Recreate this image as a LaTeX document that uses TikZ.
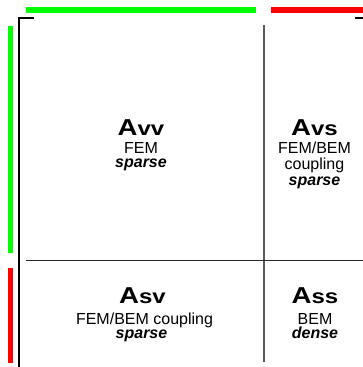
\documentclass[tikz,border=0pt]{standalone}
\usepackage{fontspec}
\setmainfont{Liberation Sans}
\newfontfamily\ttlfont[FakeStretch=1.2]{Liberation Sans}
\definecolor{barg}{RGB}{0,255,0}
\definecolor{barr}{RGB}{255,0,0}
\definecolor{divgray}{RGB}{90,90,90}
\newcommand{\Mname}[1]{{\ttlfont\bfseries\fontsize{23}{23}\selectfont A}{\ttlfont\bfseries\fontsize{20}{20}\selectfont #1}}
\begin{document}
\begin{tikzpicture}[x=1pt,y=-1pt,
  gbar/.style={line width=5.3pt,barg},
  rbar/.style={line width=5.3pt,barr},
  brk/.style={line width=2pt,black},
  vdiv/.style={line width=1.2pt,divgray},
  hdiv/.style={line width=1pt,black!85},
  txt/.style={anchor=base,inner sep=0pt,font=\fontsize{16}{16}\selectfont},
  ttl/.style={anchor=base,inner sep=0pt}]
\useasboundingbox (0,0) rectangle (363,367);
% bars
\coordinate (gt1) at (26,10); \coordinate (gt2) at (256,10);
\coordinate (rt1) at (271,10); \coordinate (rt2) at (363,10);
\coordinate (gl1) at (10.6,26); \coordinate (gl2) at (10.6,252.5);
\coordinate (rl1) at (10.6,268); \coordinate (rl2) at (10.6,362.5);
\draw[gbar] (gt1) -- (gt2);
\draw[rbar] (rt1) -- (rt2);
\draw[gbar] (gl1) -- (gl2);
\draw[rbar] (rl1) -- (rl2);
% brackets
\coordinate (b1) at (34,17.5); \coordinate (b2) at (19,17.5); \coordinate (b3) at (19,367);
\draw[brk] (b1) -- (b2) -- (b3);
\coordinate (c1) at (355,17.5); \coordinate (c2) at (363,17.5);
\draw[brk] (c1) -- (c2);
% dividers
\coordinate (v1) at (264,25); \coordinate (v2) at (264,362);
\coordinate (h1) at (26,260); \coordinate (h2) at (363,260);
\draw[vdiv] (v1) -- (v2);
\draw[hdiv] (h1) -- (h2);
% upper left
\node[ttl] (vvA) at (141,135) {\Mname{vv}};
\node[txt] (vvB) at (141,153.5) {FEM};
\node[txt] (vvC) at (141,167.5) {\textbf{\textit{sparse}}};
% upper right
\node[ttl] (vsA) at (314.5,135) {\Mname{vs}};
\node[txt] (vsB) at (314.5,153.5) {FEM/BEM};
\node[txt] (vsC) at (314.5,169.5) {coupling};
\node[txt] (vsD) at (314.5,185.5) {\textbf{\textit{sparse}}};
% lower left
\node[ttl] (svA) at (142.5,303.5) {\Mname{sv}};
\node[txt] (svB) at (144.5,324.5) {FEM/BEM coupling};
\node[txt] (svC) at (141.5,338) {\textbf{\textit{sparse}}};
% lower right
\node[ttl] (ssA) at (315,303.5) {\Mname{ss}};
\node[txt] (ssB) at (315,324) {BEM};
\node[txt] (ssC) at (315,338) {\textbf{\textit{dense}}};
\end{tikzpicture}
\end{document}
